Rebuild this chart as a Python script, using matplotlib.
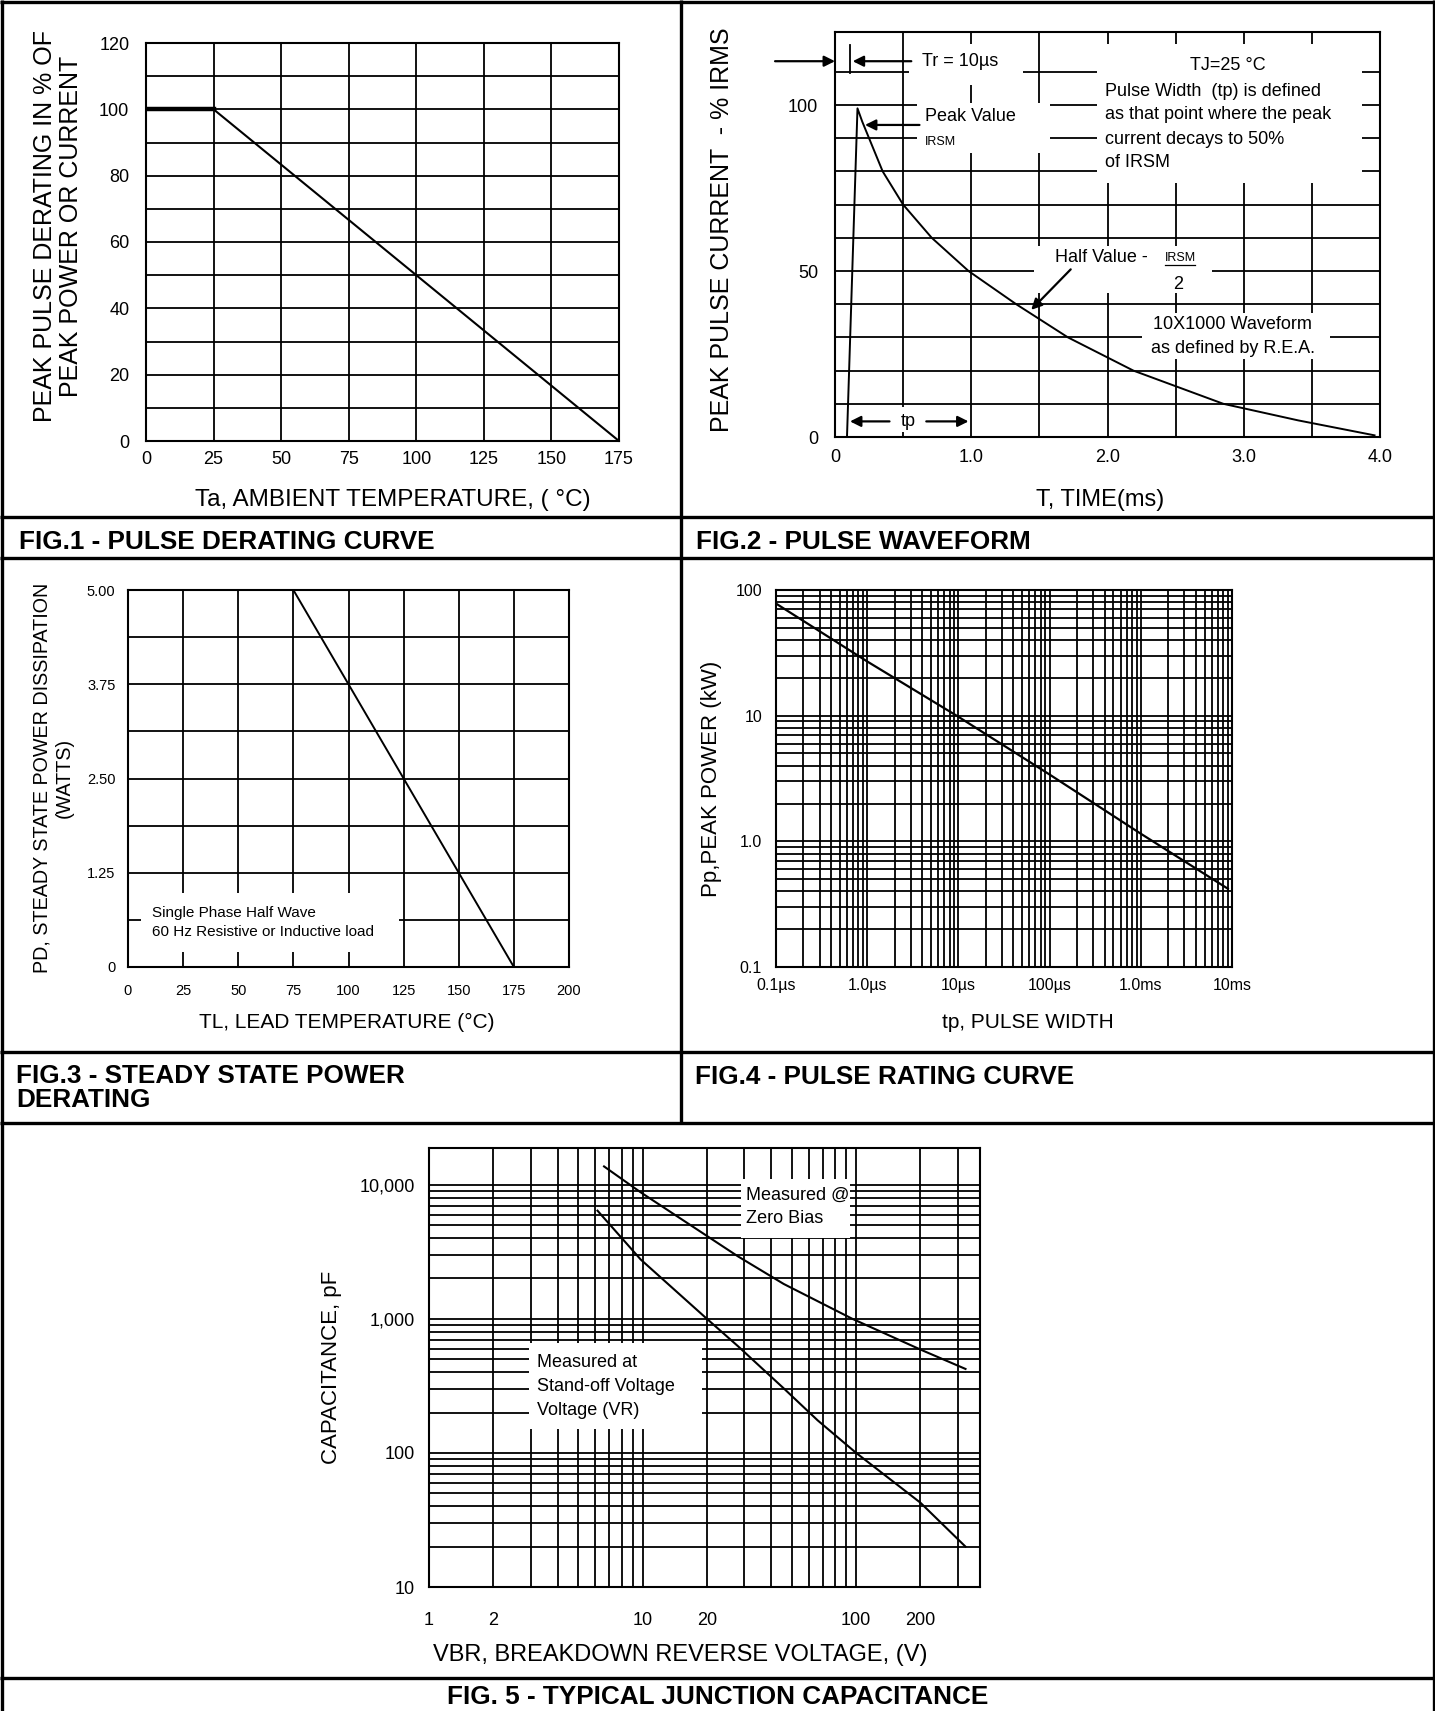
import numpy as np
import matplotlib
matplotlib.use("Agg")
import matplotlib.pyplot as plt
from matplotlib.patches import Rectangle
from matplotlib.lines import Line2D

plt.rcParams['font.family'] = ['Liberation Sans', 'DejaVu Sans']

# ---------------- data ----------------
# FIG.1 - pulse derating curve
fig1_temp = [0, 25, 175]
fig1_pct = [100, 100, 0]
fig1_xticks = [0, 25, 50, 75, 100, 125, 150, 175]
fig1_yticks = [0, 20, 40, 60, 80, 100, 120]

# FIG.2 - pulse waveform (ms, % of peak)
fig2_time = [0.088, 0.165, 0.20, 0.25, 0.35, 0.50, 0.71, 0.98, 1.33, 1.71, 2.19, 2.52, 2.85, 3.40, 3.96]
fig2_pct = [0, 99, 95, 90, 80, 70, 60, 50, 40, 30, 20, 15, 10, 5, 0.5]
fig2_xticks = [0, 1, 2, 3, 4]
fig2_xticklabels = ["0", "1.0", "2.0", "3.0", "4.0"]
fig2_yticks = [0, 50, 100]

# FIG.3 - steady state power derating
fig3_temp = [75, 175]
fig3_watts = [5.0, 0.0]
fig3_xticks = [0, 25, 50, 75, 100, 125, 150, 175, 200]
fig3_yticks = [0, 1.25, 2.5, 3.75, 5.0]
fig3_yticklabels = ["0", "1.25", "2.50", "3.75", "5.00"]

# FIG.4 - pulse rating curve (s, kW)
fig4_tp = [1e-7, 1e-6, 1e-5, 1e-4, 1e-3, 9e-3]
fig4_kw = [78, 27, 9.8, 3.4, 1.15, 0.42]
fig4_xticks = [1e-7, 1e-6, 1e-5, 1e-4, 1e-3, 1e-2]
fig4_xticklabels = ["0.1µs", "1.0µs", "10µs", "100µs", "1.0ms", "10ms"]
fig4_yticks = [0.1, 1, 10, 100]
fig4_yticklabels = ["0.1", "1.0", "10", "100"]

# FIG.5 - typical junction capacitance (V, pF)
fig5_v_zero = [6.6, 9.8, 28, 45.8, 96, 200, 325]
fig5_c_zero = [13700, 8780, 2920, 1820, 1000, 590, 423]
fig5_v_vr = [6.15, 9.8, 19.6, 28, 45.8, 66, 100, 200, 325]
fig5_c_vr = [6410, 2770, 1030, 624, 303, 175, 100, 42.5, 20]
fig5_xticks = [1, 2, 10, 20, 100, 200]
fig5_xticklabels = ["1", "2", "10", "20", "100", "200"]
fig5_yticks = [10, 100, 1000, 10000]
fig5_yticklabels = ["10", "100", "1,000", "10,000"]

# ---------------- layout helpers ----------------
W, H = 1435, 1711
fig = plt.figure(figsize=(W / 100, H / 100), dpi=100)
fig.patch.set_facecolor('white')


def px_axes(l, t, r, b):
    return fig.add_axes([l / W, 1 - b / H, (r - l) / W, (b - t) / H])


def ftext(x, y, s, **kw):
    return fig.text(x / W, 1 - y / H, s, **kw)


def fline(xs, ys, lw=2.4):
    fig.add_artist(Line2D([x / W for x in xs], [1 - y / H for y in ys],
                          transform=fig.transFigure, color='black', lw=lw,
                          solid_capstyle='butt'))


def style(ax, labelsize, padx, pady):
    ax.set_axisbelow(True)
    ax.grid(which='both', color='black', lw=1.3)
    ax.tick_params(which='both', length=0)
    ax.tick_params(axis='x', labelsize=labelsize, pad=padx)
    ax.tick_params(axis='y', labelsize=labelsize, pad=pady)
    for s in ax.spines.values():
        s.set_linewidth(1.5)
        s.set_color('black')


def whitebox(ax, x0, y0, x1, y1):
    ax.add_patch(Rectangle((x0, y0), x1 - x0, y1 - y0, fc='white', ec='none', zorder=1))


ARW = dict(arrowstyle='-|>', color='black', lw=1.6, mutation_scale=16, shrinkA=0, shrinkB=0)
CAP = dict(fontsize=18.8, weight='bold')

# ---------------- table frame ----------------
fline([1.5, 1.5], [0, H])
fline([W - 1.5, W - 1.5], [0, H])
fline([0, W], [1.5, 1.5])
fline([681, 681], [0, 1123])
for yy in (517, 558, 1052, 1123, 1678):
    fline([0, W], [yy, yy])

# ---------------- FIG.1 ----------------
ax1 = px_axes(146, 43, 619, 441)
ax1.set_xlim(0, 175)
ax1.set_ylim(0, 120)
ax1.set_xticks(fig1_xticks)
ax1.set_yticks(fig1_yticks)
ax1.set_yticks(np.arange(0, 121, 10), minor=True)
style(ax1, 13, 7, 12)
ax1.plot(fig1_temp, fig1_pct, color='black', lw=1.5, zorder=3)
ax1.plot(fig1_temp[:2], fig1_pct[:2], color='black', lw=3.2, zorder=3)
ftext(58, 226, "PEAK PULSE DERATING IN % OF\nPEAK POWER OR CURRENT", rotation=90,
      ha='center', va='center', fontsize=18, linespacing=1.15)
ftext(393, 500, "Ta, AMBIENT TEMPERATURE, ( °C)", ha='center', va='center', fontsize=17.5)
ftext(19, 542, "FIG.1 - PULSE DERATING CURVE", ha='left', va='center', **CAP)

# ---------------- FIG.2 ----------------
ax2 = px_axes(835, 32, 1380, 437)
ax2.set_xlim(0, 4)
ax2.set_ylim(0, 122)
ax2.set_xticks(fig2_xticks)
ax2.set_xticklabels(fig2_xticklabels)
ax2.set_xticks(np.arange(0, 4.01, 0.5), minor=True)
ax2.set_yticks(fig2_yticks)
ax2.set_yticks(np.arange(0, 111, 10), minor=True)
style(ax2, 13, 9, 12)
ax2.plot(fig2_time, fig2_pct, color='black', lw=1.4, zorder=3)

# white label areas
whitebox(ax2, 0.54, 106, 1.38, 118.5)
whitebox(ax2, 0.60, 85.5, 1.58, 100.6)
whitebox(ax2, 1.92, 76.5, 3.87, 118.5)
whitebox(ax2, 1.46, 43.5, 2.77, 57.5)
whitebox(ax2, 2.25, 23.5, 3.63, 37.5)
whitebox(ax2, 0.38, 1.5, 0.68, 9.0)

fs2 = 13
# Tr marker
ax2.annotate('', xy=(0.0, 113.2), xytext=(-0.44, 113.2), arrowprops=ARW, annotation_clip=False)
ax2.plot([0.11, 0.11], [109.5, 118], color='black', lw=1.3, zorder=3)
ax2.annotate('', xy=(0.13, 113.2), xytext=(0.56, 113.2), arrowprops=ARW)
ax2.text(0.635, 113.2, "Tr = 10µs", fontsize=fs2, ha='left', va='center', zorder=4)
# Peak value
ax2.text(0.66, 96.5, "Peak Value", fontsize=fs2, ha='left', va='center', zorder=4)
ax2.text(0.66, 89.0, "IRSM", fontsize=9, ha='left', va='center', zorder=4)
ax2.annotate('', xy=(0.22, 94.0), xytext=(0.62, 94.0), arrowprops=ARW)
# right block
ax2.text(2.88, 112, "TJ=25 °C", fontsize=fs2, ha='center', va='center', zorder=4)
ax2.text(1.98, 104.2, "Pulse Width  (tp) is defined", fontsize=fs2, ha='left', va='center', zorder=4)
ax2.text(1.98, 97.0, "as that point where the peak", fontsize=fs2, ha='left', va='center', zorder=4)
ax2.text(1.98, 89.6, "current decays to 50%", fontsize=fs2, ha='left', va='center', zorder=4)
ax2.text(1.98, 82.6, "of IRSM", fontsize=fs2, ha='left', va='center', zorder=4)
# half value
ax2.text(1.615, 54.0, "Half Value -", fontsize=fs2, ha='left', va='center', zorder=4)
ax2.text(2.42, 54.0, "IRSM", fontsize=9, ha='left', va='center', zorder=4)
ax2.plot([2.42, 2.64], [51.8, 51.8], color='black', lw=0.9, zorder=4)
ax2.text(2.52, 46.0, "2", fontsize=fs2, ha='center', va='center', zorder=4)
ax2.annotate('', xy=(1.44, 38.3), xytext=(1.73, 50.5), arrowprops=ARW)
# waveform note
ax2.text(2.92, 33.8, "10X1000 Waveform", fontsize=fs2, ha='center', va='center', zorder=4)
ax2.text(2.92, 26.8, "as defined by R.E.A.", fontsize=fs2, ha='center', va='center', zorder=4)
# tp
ax2.text(0.54, 4.7, "tp", fontsize=fs2, ha='center', va='center', zorder=4)
ax2.annotate('', xy=(0.11, 4.7), xytext=(0.40, 4.7), arrowprops=ARW)
ax2.annotate('', xy=(0.98, 4.7), xytext=(0.67, 4.7), arrowprops=ARW)

ftext(722, 230, "PEAK PULSE CURRENT  - % IRMS", rotation=90, ha='center', va='center', fontsize=18)
ftext(1100, 500, "T, TIME(ms)", ha='center', va='center', fontsize=17)
ftext(696, 542, "FIG.2 - PULSE WAVEFORM", ha='left', va='center', **CAP)

# ---------------- FIG.3 ----------------
ax3 = px_axes(128, 590, 569, 967)
ax3.set_xlim(0, 200)
ax3.set_ylim(0, 5)
ax3.set_xticks(fig3_xticks)
ax3.set_yticks(fig3_yticks)
ax3.set_yticklabels(fig3_yticklabels)
ax3.set_yticks(np.arange(0, 5.01, 0.625), minor=True)
style(ax3, 10.5, 12, 9)
ax3.plot(fig3_temp, fig3_watts, color='black', lw=1.4, zorder=3)
whitebox(ax3, 6, 0.2, 123, 0.98)
ax3.text(10.8, 0.71, "Single Phase Half Wave", fontsize=11, ha='left', va='center', zorder=4)
ax3.text(10.8, 0.465, "60 Hz Resistive or Inductive load", fontsize=11, ha='left', va='center', zorder=4)
ftext(53, 778, "PD, STEADY STATE POWER DISSIPATION\n(WATTS)", rotation=90, ha='center',
      va='center', fontsize=14.2, linespacing=1.2)
ftext(347, 1022, "TL, LEAD TEMPERATURE (°C)", ha='center', va='center', fontsize=15)
ftext(16, 1064, "FIG.3 - STEADY STATE POWER\nDERATING", ha='left', va='top',
      linespacing=1.0, **CAP)

# ---------------- FIG.4 ----------------
ax4 = px_axes(776, 590, 1232, 967)
ax4.set_xscale('log')
ax4.set_yscale('log')
ax4.set_xlim(1e-7, 1e-2)
ax4.set_ylim(0.1, 100)
ax4.set_xticks(fig4_xticks)
ax4.set_xticklabels(fig4_xticklabels)
ax4.set_yticks(fig4_yticks)
ax4.set_yticklabels(fig4_yticklabels)
ax4.minorticks_on()
ax4.xaxis.set_minor_formatter(plt.NullFormatter())
ax4.yaxis.set_minor_formatter(plt.NullFormatter())
style(ax4, 11.5, 8, 10)
ax4.plot(fig4_tp, fig4_kw, color='black', lw=1.6, zorder=3)
ftext(711, 779, "Pp,PEAK POWER (kW)", rotation=90, ha='center', va='center', fontsize=16)
ftext(1028, 1022, "tp, PULSE WIDTH", ha='center', va='center', fontsize=15)
ftext(695, 1077, "FIG.4 - PULSE RATING CURVE", ha='left', va='center', **CAP)

# ---------------- FIG.5 ----------------
ax5 = px_axes(429, 1148, 980, 1587)
ax5.set_xscale('log')
ax5.set_yscale('log')
ax5.set_xlim(1, 380)
ax5.set_ylim(10, 18800)
ax5.set_xticks(fig5_xticks)
ax5.set_xticklabels(fig5_xticklabels)
ax5.set_yticks(fig5_yticks)
ax5.set_yticklabels(fig5_yticklabels)
ax5.minorticks_on()
ax5.xaxis.set_minor_formatter(plt.NullFormatter())
ax5.yaxis.set_minor_formatter(plt.NullFormatter())
style(ax5, 13, 18, 10)
ax5.plot(fig5_v_zero, fig5_c_zero, color='black', lw=1.5, zorder=3)
ax5.plot(fig5_v_vr, fig5_c_vr, color='black', lw=1.5, zorder=3)
whitebox(ax5, 29, 4000, 94, 11100)
whitebox(ax5, 2.95, 150, 19, 660)
ax5.text(30.4, 8330, "Measured @", fontsize=13, ha='left', va='center', zorder=4)
ax5.text(30.4, 5600, "Zero Bias", fontsize=13, ha='left', va='center', zorder=4)
ax5.text(3.22, 473, "Measured at", fontsize=13, ha='left', va='center', zorder=4)
ax5.text(3.22, 312, "Stand-off Voltage", fontsize=13, ha='left', va='center', zorder=4)
ax5.text(3.22, 206, "Voltage (VR)", fontsize=13, ha='left', va='center', zorder=4)
ftext(332, 1367, "CAPACITANCE, pF", rotation=90, ha='center', va='center', fontsize=16)
ftext(680, 1655, "VBR, BREAKDOWN REVERSE VOLTAGE, (V)", ha='center', va='center', fontsize=17)
ftext(718, 1697, "FIG. 5 - TYPICAL JUNCTION CAPACITANCE", ha='center', va='center', **CAP)

fig.savefig("out.png", dpi=100, facecolor='white')
